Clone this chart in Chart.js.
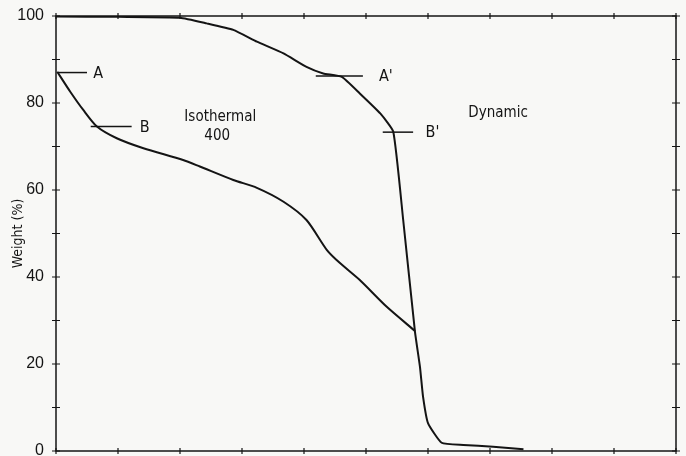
<!DOCTYPE html>
<html>
<head>
<meta charset="utf-8">
<script src="https://cdn.jsdelivr.net/npm/chart.js@4.4.1/dist/chart.umd.min.js"></script>
<style>
  html, body { margin: 0; padding: 0; background: #f8f8f6; }
  #wrap { width: 686px; height: 456px; position: relative; }
</style>
</head>
<body>
<div id="wrap"><canvas id="tga"></canvas></div>
<script>
// Weight loss curves (x in arbitrary tick units, 0..10)
const isoX = [0.02, 0.23, 0.44, 0.66, 0.98, 1.41, 2.05, 2.32, 2.86, 3.24, 3.67, 4.04, 4.37, 4.58, 4.9, 5.33, 5.79];
const isoY = [87.2, 82.6, 78.4, 74.6, 71.9, 69.6, 66.9, 65.4, 62.3, 60.5, 57.3, 53.1, 46.2, 43.2, 39.3, 33.2, 27.6];

const dynX = [0, 1.0, 2.0, 2.43, 2.86, 3.24, 3.67, 4.04, 4.31, 4.61, 4.9, 5.23, 5.44, 5.6, 5.79, 5.87, 5.92, 6.0, 6.22, 6.57, 7.05, 7.54];
const dynY = [99.9, 99.8, 99.6, 98.3, 96.8, 94.1, 91.4, 88.3, 86.8, 86.0, 82.2, 77.6, 73.4, 53.1, 27.4, 19.4, 12.5, 6.4, 1.9, 1.4, 1.0, 0.4];

const yTicks = [0, 20, 40, 60, 80, 100];

// leader lines for the marked points
const markNames = ['A', 'B', "A'", "B'"];
const markX0 = [0.03, 0.56, 4.19, 5.27];
const markX1 = [0.5, 1.22, 4.95, 5.76];
const markY = [87.0, 74.6, 86.2, 73.3];
const markTextX = [0.6, 1.35, 5.21, 5.96];

const notes = [
  { text: 'Isothermal', x: 2.65, y: 76.8 },
  { text: '400', x: 2.6, y: 72.4 },
  { text: 'Dynamic', x: 7.13, y: 77.7 }
];

const ink = '#141414';
const toPts = (xs, ys) => xs.map((x, i) => ({ x, y: ys[i] }));

const datasets = [
  { data: toPts(isoX, isoY), borderColor: ink, borderWidth: 2, pointRadius: 0, tension: 0.25, showLine: true },
  { data: toPts(dynX, dynY), borderColor: ink, borderWidth: 2, pointRadius: 0, tension: 0.15, showLine: true }
];
markNames.forEach((n, i) => {
  datasets.push({
    data: [{ x: markX0[i], y: markY[i] }, { x: markX1[i], y: markY[i] }],
    borderColor: ink, borderWidth: 1.5, pointRadius: 0, showLine: true
  });
});

// frame with small cross ticks on all four sides, plus the text notes
const framePlugin = {
  id: 'frame',
  afterDatasetsDraw(chart) {
    const { ctx, chartArea: a, scales: { x, y } } = chart;
    ctx.save();
    ctx.strokeStyle = ink;
    ctx.lineWidth = 1.5;
    ctx.strokeRect(a.left, a.top, a.right - a.left, a.bottom - a.top);
    ctx.lineWidth = 1.2;
    x.ticks.forEach(t => {
      const px = x.getPixelForValue(t.value);
      ctx.beginPath();
      ctx.moveTo(px, a.top - 3); ctx.lineTo(px, a.top + 3);
      ctx.moveTo(px, a.bottom - 3); ctx.lineTo(px, a.bottom + 3);
      ctx.stroke();
    });
    y.ticks.forEach(t => {
      const py = y.getPixelForValue(t.value);
      ctx.beginPath();
      ctx.moveTo(a.left - 4, py); ctx.lineTo(a.left + 4, py);
      ctx.moveTo(a.right - 4, py); ctx.lineTo(a.right + 4, py);
      ctx.stroke();
    });

    ctx.fillStyle = ink;
    ctx.font = '16px "DejaVu Sans Condensed", "DejaVu Sans"';
    ctx.textBaseline = 'middle';
    ctx.textAlign = 'left';
    markNames.forEach((n, i) => {
      ctx.fillText(n, x.getPixelForValue(markTextX[i]), y.getPixelForValue(markY[i]) + 1);
    });
    ctx.font = '15px "DejaVu Sans Condensed", "DejaVu Sans"';
    ctx.textAlign = 'center';
    notes.forEach(n => ctx.fillText(n.text, x.getPixelForValue(n.x), y.getPixelForValue(n.y)));
    ctx.restore();
  }
};

new Chart(document.getElementById('tga'), {
  type: 'scatter',
  data: { datasets },
  plugins: [framePlugin],
  options: {
    responsive: true,
    maintainAspectRatio: false,
    animation: false,
    layout: { padding: { top: 16, right: 10, bottom: 5, left: 0 } },
    plugins: { legend: { display: false }, tooltip: { enabled: false } },
    scales: {
      x: {
        type: 'linear', min: 0, max: 10, display: false,
        ticks: { stepSize: 1 }
      },
      y: {
        min: 0, max: 100,
        ticks: {
          stepSize: 10,
          color: ink,
          padding: 4,
          font: { family: '"Liberation Sans Narrow", "Liberation Sans"', size: 16 },
          callback: v => (yTicks.includes(v) ? String(v) : '')
        },
        grid: { display: false },
        border: { display: false },
        title: {
          display: true, text: 'Weight (%)', color: ink,
          font: { family: '"DejaVu Sans Condensed", "DejaVu Sans"', size: 14 },
          padding: { top: 10, bottom: 0 }
        },
        afterFit(s) {
          s.width = 56;
          s.paddingTop = 0;
          s.paddingBottom = 0;
        }
      }
    }
  }
});
</script>
</body>
</html>
